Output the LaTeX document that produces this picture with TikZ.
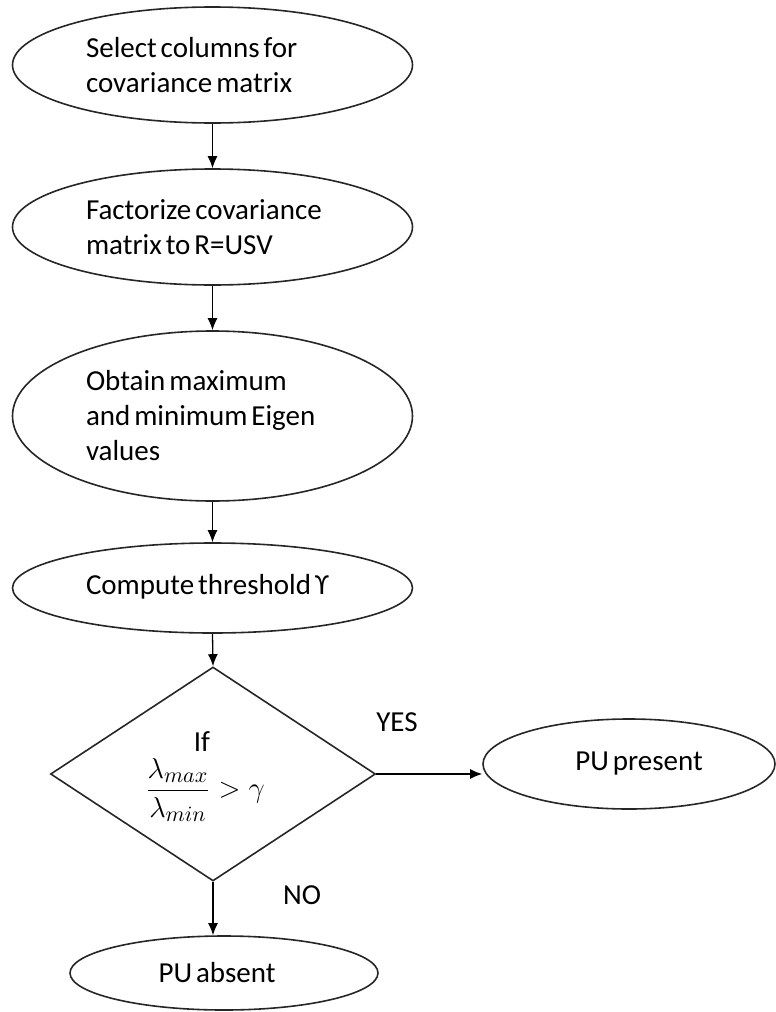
\documentclass[tikz,border=0pt]{standalone}
\usepackage{amsmath}
\usepackage{fontspec}
\setmainfont{Carlito}[WordSpace=0.6]
\usetikzlibrary{shapes.geometric,arrows.meta}
\begin{document}
\begin{tikzpicture}[x=0.5pt,y=-0.5pt,
  every node/.style={font=\fontsize{14.5}{17.5}\selectfont},
  oval/.style={draw=black!85, line width=0.8pt, ellipse, inner sep=0pt, minimum width=200pt},
  ovaltext/.style={oval, text width=126.5pt, align=flush left},
  decision/.style={draw=black!85, line width=0.8pt, diamond, inner sep=0pt, minimum width=162.5pt, minimum height=107pt},
  flow/.style={draw=black, line width=0.65pt, -{Latex[length=6pt,width=5pt]}},
  lbl/.style={inner sep=0pt}]
\useasboundingbox (0,0) rectangle (776,1012);
\node[ovaltext, minimum height=58pt] (e1) at (212.5,65) {Select columns for\\covariance matrix};
\node[ovaltext, minimum height=58pt] (e2) at (212.5,227) {Factorize covariance\\matrix to R=USV};
\node[ovaltext, minimum height=85pt] (e3) at (212.5,416) {Obtain maximum\\and minimum Eigen\\values};
\node[ovaltext, minimum height=45pt] (e4) at (212.5,588) {\raisebox{4pt}{Compute threshold ϒ}};
\node[decision] (dia) at (213,774) {};
\node[lbl] (cif) at (202,742) {If};
\node[lbl] (cfrac) at (205,790) {\fontsize{15}{18}\selectfont$\dfrac{\lambda_{max}}{\lambda_{min}} > \gamma$};
\node[oval, minimum width=146pt, minimum height=45pt] (pp) at (629,764) {\hspace*{10pt}PU present};
\node[oval, minimum width=154pt, minimum height=37pt] (pa) at (224,973) {PU absent\hspace*{7pt}};
\node[lbl] (yes) at (397,722) {YES};
\node[lbl] (no) at (302,895) {NO};
\draw[flow] (e1) -- (e2);
\draw[flow] (e2) -- (e3);
\draw[flow] (e3) -- (e4);
\draw[flow] (e4.south) -- (dia.north);
\draw[flow] (dia.east) -- (dia.east -| pp.west);
\draw[flow] (dia.south) -- (dia.south |- pa.north);
\end{tikzpicture}
\end{document}
